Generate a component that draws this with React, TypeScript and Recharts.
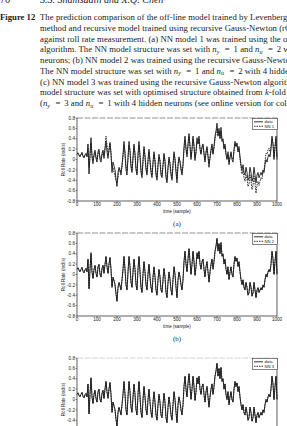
import React from 'react';
import { LineChart, Line, XAxis, YAxis, ReferenceLine, Legend } from 'recharts';

// Measured roll rate (rad/s), one value every 5 samples (0..1000)
const ROLL_RATE = [
  0.10, 0.13, 0.08, 0.05, 0.10, 0.14, 0.06, 0.03, 0.09, 0.12,
  0.05, 0.30, -0.28, 0.10, 0.42, 0.05, -0.08, 0.10, 0.18, 0.02,
  -0.05, 0.15, 0.20, 0.00, -0.05, 0.12, 0.18, 0.02, 0.20, 0.35,
  0.15, 0.02, 0.20, 0.33, 0.10, -0.25, -0.05, -0.12, -0.20, -0.38,
  -0.52, -0.25, -0.15, -0.22, -0.30, -0.10, 0.10, 0.35, 0.10, -0.20,
  -0.30, 0.05, 0.35, 0.15, -0.15, -0.25, 0.05, 0.30, 0.10, -0.20,
  -0.30, 0.10, 0.35, 0.05, -0.25, -0.35, 0.00, 0.25, 0.05, -0.20,
  -0.30, 0.00, 0.20, -0.05, -0.25, -0.35, -0.05, 0.15, -0.05, -0.30,
  -0.40, -0.10, 0.10, -0.05, -0.30, -0.35, -0.10, 0.12, -0.05, -0.35,
  -0.45, -0.15, 0.05, -0.10, -0.30, -0.40, -0.10, 0.15, 0.00, -0.25,
  -0.45, -0.10, 0.05, -0.05, -0.20, -0.30, -0.10, 0.25, 0.45, 0.20,
  0.05, 0.30, 0.50, 0.25, 0.00, 0.20, 0.45, 0.25, -0.02, 0.15,
  0.42, 0.30, 0.45, 0.20, 0.10, 0.25, 0.30, 0.10, -0.05, 0.15,
  0.25, 0.05, -0.15, 0.05, 0.20, 0.30, 0.10, 0.25, 0.45, 0.55,
  0.70, 0.45, 0.60, 0.40, 0.62, 0.35, 0.40, 0.20, 0.30, 0.10,
  0.00, 0.15, -0.10, 0.05, 0.15, 0.00, -0.05, 0.20, 0.35, 0.25,
  0.32, 0.15, 0.25, 0.05, -0.10, -0.20, -0.10, -0.25, -0.30, -0.15,
  -0.25, -0.40, -0.35, -0.15, -0.25, -0.42, -0.35, -0.15, -0.30, -0.45,
  -0.30, -0.25, -0.35, -0.30, -0.25, -0.30, -0.20, -0.25, -0.10, 0.00,
  -0.05, 0.05, 0.10, 0.05, 0.20, 0.45, 0.30, 0.00, 0.25, 0.45,
  0.00,
];

// NN 1: off-line Levenberg-Marquardt model prediction
const NN1 = [
  0.12, 0.11, 0.09, 0.07, 0.09, 0.12, 0.08, 0.05, 0.08, 0.10,
  0.08, 0.22, -0.15, 0.05, 0.32, 0.10, -0.02, 0.06, 0.14, 0.05,
  0.00, 0.10, 0.16, 0.05, 0.00, 0.08, 0.15, 0.08, 0.22, 0.45,
  0.28, 0.08, 0.15, 0.30, 0.15, -0.15, -0.15, -0.25, -0.32, -0.40,
  -0.45, -0.35, -0.20, -0.18, -0.25, -0.15, 0.05, 0.28, 0.15, -0.12,
  -0.22, 0.00, 0.28, 0.18, -0.10, -0.20, 0.00, 0.25, 0.12, -0.15,
  -0.25, 0.05, 0.28, 0.10, -0.18, -0.30, -0.05, 0.20, 0.08, -0.15,
  -0.25, -0.05, 0.15, 0.00, -0.20, -0.30, -0.08, 0.10, 0.00, -0.25,
  -0.35, -0.12, 0.05, 0.00, -0.25, -0.32, -0.12, 0.08, 0.00, -0.30,
  -0.40, -0.18, 0.00, -0.05, -0.25, -0.35, -0.12, 0.10, 0.02, -0.20,
  -0.38, -0.12, 0.02, -0.02, -0.15, -0.25, -0.12, 0.18, 0.38, 0.22,
  0.10, 0.25, 0.45, 0.28, 0.05, 0.18, 0.40, 0.28, 0.03, 0.12,
  0.35, 0.30, 0.40, 0.22, 0.12, 0.22, 0.28, 0.12, 0.00, 0.12,
  0.22, 0.08, -0.08, 0.02, 0.15, 0.25, 0.12, 0.22, 0.38, 0.50,
  0.60, 0.48, 0.55, 0.42, 0.55, 0.38, 0.35, 0.22, 0.25, 0.12,
  0.02, 0.10, -0.05, 0.02, 0.12, 0.03, 0.00, 0.15, 0.30, 0.25,
  0.28, 0.15, 0.20, 0.02, -0.15, -0.28, -0.20, -0.35, -0.42, -0.30,
  -0.38, -0.52, -0.48, -0.30, -0.40, -0.58, -0.50, -0.32, -0.45, -0.65,
  -0.50, -0.42, -0.50, -0.42, -0.35, -0.38, -0.25, -0.22, -0.02, 0.12,
  0.10, 0.18, 0.22, 0.15, 0.25, 0.40, 0.30, 0.05, 0.22, 0.40,
  0.05,
];

// NN 2: recursive Gauss-Newton model prediction
const NN2 = [
  0.11, 0.12, 0.09, 0.06, 0.09, 0.13, 0.07, 0.04, 0.08, 0.11,
  0.06, 0.28, -0.26, 0.09, 0.40, 0.06, -0.07, 0.09, 0.17, 0.03,
  -0.04, 0.14, 0.19, 0.01, -0.04, 0.11, 0.17, 0.03, 0.19, 0.34,
  0.16, 0.03, 0.19, 0.32, 0.11, -0.23, -0.06, -0.11, -0.19, -0.36,
  -0.50, -0.26, -0.16, -0.21, -0.29, -0.11, 0.09, 0.34, 0.11, -0.19,
  -0.29, 0.04, 0.34, 0.16, -0.14, -0.24, 0.04, 0.29, 0.11, -0.19,
  -0.29, 0.09, 0.34, 0.06, -0.24, -0.34, 0.01, 0.24, 0.06, -0.19,
  -0.29, 0.01, 0.19, -0.04, -0.24, -0.34, -0.06, 0.14, -0.04, -0.29,
  -0.39, -0.11, 0.09, -0.04, -0.29, -0.34, -0.11, 0.11, -0.04, -0.34,
  -0.44, -0.16, 0.04, -0.09, -0.29, -0.39, -0.11, 0.14, 0.01, -0.24,
  -0.44, -0.11, 0.04, -0.04, -0.19, -0.29, -0.11, 0.24, 0.44, 0.21,
  0.06, 0.29, 0.49, 0.26, 0.01, 0.19, 0.44, 0.26, -0.01, 0.14,
  0.41, 0.31, 0.44, 0.21, 0.11, 0.24, 0.29, 0.11, -0.04, 0.14,
  0.24, 0.06, -0.14, 0.04, 0.19, 0.29, 0.11, 0.24, 0.44, 0.54,
  0.68, 0.46, 0.59, 0.41, 0.60, 0.36, 0.39, 0.21, 0.29, 0.11,
  0.01, 0.14, -0.09, 0.04, 0.14, 0.01, -0.04, 0.19, 0.34, 0.26,
  0.31, 0.16, 0.24, 0.06, -0.09, -0.19, -0.11, -0.24, -0.29, -0.16,
  -0.24, -0.39, -0.36, -0.16, -0.24, -0.41, -0.36, -0.16, -0.29, -0.44,
  -0.31, -0.26, -0.34, -0.31, -0.26, -0.29, -0.21, -0.24, -0.11, 0.01,
  -0.04, 0.04, 0.09, 0.06, 0.19, 0.44, 0.31, 0.01, 0.24, 0.44,
  0.01,
];

// NN 3: recursive Gauss-Newton model with k-fold selected structure
const NN3 = [
  0.10, 0.12, 0.08, 0.06, 0.10, 0.13, 0.06, 0.04, 0.09, 0.11,
  0.05, 0.29, -0.27, 0.10, 0.41, 0.05, -0.07, 0.10, 0.17, 0.02,
  -0.05, 0.14, 0.20, 0.01, -0.05, 0.12, 0.17, 0.02, 0.20, 0.34,
  0.15, 0.03, 0.20, 0.32, 0.10, -0.24, -0.05, -0.12, -0.20, -0.37,
  -0.51, -0.25, -0.15, -0.22, -0.29, -0.10, 0.10, 0.34, 0.10, -0.20,
  -0.29, 0.05, 0.34, 0.15, -0.15, -0.24, 0.05, 0.29, 0.10, -0.20,
  -0.29, 0.10, 0.34, 0.05, -0.25, -0.34, 0.00, 0.25, 0.05, -0.20,
  -0.29, 0.00, 0.20, -0.05, -0.25, -0.34, -0.05, 0.15, -0.05, -0.29,
  -0.39, -0.10, 0.10, -0.05, -0.29, -0.35, -0.10, 0.12, -0.05, -0.34,
  -0.44, -0.15, 0.05, -0.10, -0.30, -0.39, -0.10, 0.15, 0.00, -0.25,
  -0.44, -0.10, 0.05, -0.05, -0.20, -0.29, -0.10, 0.25, 0.44, 0.20,
  0.05, 0.30, 0.49, 0.25, 0.01, 0.20, 0.44, 0.25, -0.02, 0.15,
  0.41, 0.30, 0.44, 0.20, 0.10, 0.25, 0.30, 0.10, -0.05, 0.15,
  0.25, 0.05, -0.14, 0.05, 0.20, 0.30, 0.10, 0.25, 0.44, 0.55,
  0.69, 0.45, 0.60, 0.40, 0.61, 0.35, 0.40, 0.20, 0.30, 0.10,
  0.00, 0.15, -0.10, 0.05, 0.15, 0.00, -0.05, 0.20, 0.34, 0.25,
  0.32, 0.15, 0.25, 0.05, -0.10, -0.20, -0.10, -0.25, -0.30, -0.15,
  -0.25, -0.40, -0.35, -0.15, -0.25, -0.42, -0.35, -0.15, -0.30, -0.44,
  -0.30, -0.25, -0.35, -0.30, -0.25, -0.30, -0.20, -0.25, -0.10, 0.00,
  -0.05, 0.05, 0.10, 0.05, 0.20, 0.44, 0.30, 0.00, 0.25, 0.44,
  0.00,
];

// Sample index of each value above
const SAMPLE_STEP = 5;
const SAMPLES = ROLL_RATE.map((_, i) => i * SAMPLE_STEP);

const X_TICKS = [0, 100, 200, 300, 400, 500, 600, 700, 800, 900, 1000];
const Y_TICKS = [-0.8, -0.6, -0.4, -0.2, 0, 0.2, 0.4, 0.6, 0.8];

const ROWS = SAMPLES.map((t, i) => ({
  t,
  data: ROLL_RATE[i],
  nn1: NN1[i],
  nn2: NN2[i],
  nn3: NN3[i],
}));

const SANS = '"Liberation Sans", Arial, sans-serif';
const SERIF = '"Liberation Serif", "Times New Roman", serif';
const INK = '#1a1a1a';

const fmtY = (v: number) => (v === 0 ? '0' : v.toFixed(1));

function LegendBox({ label }: { label: string }) {
  return (
    <svg width={26} height={12} style={{ display: 'block' }}>
      <rect x={0.5} y={0.5} width={25} height={11} fill="#fff" stroke="#333" strokeWidth={0.6} />
      <line x1={2} y1={3.8} x2={11} y2={3.8} stroke={INK} strokeWidth={0.9} />
      <text x={12.5} y={5.4} fontSize={4.2} fontFamily={SANS} fill={INK}>data</text>
      <line x1={2} y1={8.3} x2={11} y2={8.3} stroke={INK} strokeWidth={0.9} strokeDasharray="1.5 1" />
      <text x={12.5} y={9.9} fontSize={4.2} fontFamily={SANS} fill={INK}>{label}</text>
    </svg>
  );
}

type PanelProps = {
  top: number;
  seriesKey: 'nn1' | 'nn2' | 'nn3';
  seriesName: string;
  tag: string;
  topLine: string;
};

function Panel({ top, seriesKey, seriesName, tag, topLine }: PanelProps) {
  const tickStyle = { fontSize: 4.6, fontFamily: SANS, fill: INK };
  return (
    <div style={{ position: 'absolute', left: 0, top: top - 10, width: 287, height: 128 }}>
      <LineChart
        width={287}
        height={115}
        data={ROWS}
        margin={{ top: 10, right: 10, bottom: 10, left: 57 }}
      >
        <XAxis
          dataKey="t"
          type="number"
          domain={[0, 1000]}
          ticks={X_TICKS}
          interval={0}
          height={12}
          tickSize={1.5}
          tickMargin={0.5}
          tick={tickStyle}
          axisLine={{ stroke: INK, strokeWidth: 0.7 }}
          tickLine={{ stroke: INK, strokeWidth: 0.5 }}
          label={{ value: 'time (sample)', position: 'insideBottom', offset: 0, style: { fontSize: 4.6, fontFamily: SANS, fill: INK } }}
        />
        <YAxis
          type="number"
          domain={[-0.8, 0.8]}
          ticks={Y_TICKS}
          interval={0}
          width={20}
          tickSize={1.5}
          tickMargin={0.5}
          tick={tickStyle}
          tickFormatter={fmtY}
          axisLine={{ stroke: INK, strokeWidth: 0.7 }}
          tickLine={{ stroke: INK, strokeWidth: 0.5 }}
          label={{ value: 'Roll Rate (rad/s)', angle: -90, position: 'insideLeft', offset: 6, style: { textAnchor: 'middle', fontSize: 4.6, fontFamily: SANS, fill: INK } }}
        />
        <ReferenceLine y={0.8} stroke={topLine} strokeWidth={0.6} strokeDasharray="6 1.5" />
        <ReferenceLine x={1000} stroke={INK} strokeWidth={0.7} />
        <Line
          type="linear"
          dataKey="data"
          stroke={INK}
          strokeWidth={0.9}
          dot={false}
          isAnimationActive={false}
        />
        <Line
          type="linear"
          dataKey={seriesKey}
          name={seriesName}
          stroke={INK}
          strokeWidth={0.9}
          strokeDasharray="1.6 1"
          dot={false}
          isAnimationActive={false}
        />
        <Legend
          layout="horizontal"
          verticalAlign="middle"
          align="center"
          wrapperStyle={{ top: 10, left: 252, width: 26, height: 12 }}
          content={() => <LegendBox label={seriesName} />}
        />
      </LineChart>
      <div
        style={{
          position: 'absolute',
          left: 0,
          width: 354,
          top: 112,
          textAlign: 'center',
          fontFamily: SERIF,
          fontSize: 7,
          color: INK,
        }}
      >
        {tag}
      </div>
    </div>
  );
}

const Eq = () => <span style={{ padding: '0 1.6px' }}>=</span>;
const n = (sub: string) => (
  <>
    <i>n</i>
    <sub style={{ fontSize: '0.7em', verticalAlign: '-0.25em', fontStyle: 'italic', paddingRight: 1.5 }}>{sub}</sub>
  </>
);

// Caption lines as printed within the page's right margin
const CAPTION_LINES: React.ReactNode[] = [
  'The prediction comparison of the off-line model trained by Levenberg-',
  'method and recursive model trained using recursive Gauss-Newton (rG',
  'against roll rate measurement. (a) NN model 1 was trained using the of',
  <>algorithm. The NN model structure was set with {n('y')} <Eq /> 1 and {n('u')} <Eq /> 2 w</>,
  'neurons; (b) NN model 2 was trained using the recursive Gauss-Newto',
  <>The NN model structure was set with {n('y')} <Eq /> 1 and {n('u')} <Eq /> 2 with 4 hidde</>,
  '(c) NN model 3 was trained using the recursive Gauss-Newton algorith',
  <>model structure was set with optimised structure obtained from <i>k</i>-fold</>,
  <>({n('y')} <Eq /> 3 and {n('u')} <Eq /> 1 with 4 hidden neurons (see online version for col</>,
];

export default function App() {
  return (
    <div
      style={{
        position: 'absolute',
        left: 0,
        top: 0,
        width: 287,
        height: 426,
        overflow: 'hidden',
        background: '#fff',
        color: INK,
        fontFamily: SERIF,
      }}
    >
      <div style={{ position: 'absolute', top: -6, left: 0, fontSize: 10, whiteSpace: 'nowrap' }}>
        <span>76</span>
        <span style={{ position: 'absolute', left: 40, fontStyle: 'italic' }}>S.S. Shamsudin and X.Q. Chen</span>
      </div>
      <div style={{ position: 'absolute', top: 12, left: 0, fontSize: 8.7, fontWeight: 'bold', whiteSpace: 'nowrap' }}>
        Figure 12
      </div>
      {CAPTION_LINES.map((line, i) => (
        <div
          key={i}
          style={{
            position: 'absolute',
            top: 12 + i * 10.75,
            left: 40,
            fontSize: 8.7,
            letterSpacing: '0.05px',
            lineHeight: '11px',
            whiteSpace: 'nowrap',
          }}
        >
          {line}
        </div>
      ))}
      <Panel top={118} seriesKey="nn1" seriesName="NN 1" tag="(a)" topLine="#444" />
      <Panel top={233} seriesKey="nn2" seriesName="NN 2" tag="(b)" topLine="#444" />
      <Panel top={358} seriesKey="nn3" seriesName="NN 3" tag="(c)" topLine="#bbb" />
    </div>
  );
}
